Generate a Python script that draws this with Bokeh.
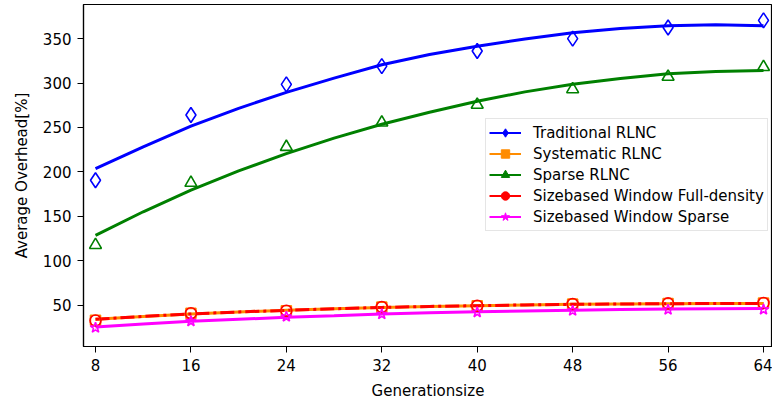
from bokeh.plotting import figure
from bokeh.models import (ColumnDataSource, FixedTicker, Legend, LegendItem,
                          Range1d)
from bokeh.embed import file_html
from bokeh.resources import INLINE

# Generation sizes and measured average overhead (%)
gen_sizes = [8, 16, 24, 32, 40, 48, 56, 64]
traditional = [190.5, 264.0, 298.5, 319.0, 336.0, 350.0, 362.5, 370.5]
systematic = [32.8, 40.6, 43.6, 47.6, 49.1, 51.0, 51.8, 52.2]
sparse = [117.6, 187.6, 228.0, 255.5, 275.5, 293.0, 307.0, 318.0]
window_full = [32.5, 40.7, 43.6, 47.8, 49.2, 51.1, 51.9, 52.2]
window_sparse = [24.5, 31.7, 36.9, 39.6, 41.8, 43.6, 44.7, 44.9]

# Fitted trend curves
fit_x = [8, 12, 16, 20, 24, 28, 32, 36, 40, 44, 48, 52, 56, 60, 64]
fit_traditional = [203.5, 228.0, 251.5, 271.5, 289.5, 305.5, 320.5, 332.0,
                   341.5, 349.5, 356.5, 361.5, 364.5, 365.5, 364.5]
fit_systematic = [34.0, 37.2, 40.0, 42.2, 44.0, 45.8, 47.3, 48.4, 49.3,
                  50.1, 50.8, 51.2, 51.5, 51.7, 51.7]
fit_sparse = [128.5, 155.0, 179.5, 201.0, 220.5, 238.0, 253.5, 267.0,
              279.5, 290.0, 298.5, 305.0, 310.5, 313.0, 314.0]
fit_window_full = [34.0, 37.2, 40.0, 42.2, 44.0, 45.8, 47.3, 48.4, 49.3,
                   50.1, 50.8, 51.2, 51.5, 51.7, 51.7]
fit_window_sparse = [25.3, 28.7, 31.6, 34.0, 36.1, 38.0, 40.0, 41.3, 42.4,
                     43.3, 44.2, 44.9, 45.4, 45.8, 46.0]

y_ticks = [50, 100, 150, 200, 250, 300, 350]

BLUE, ORANGE, GREEN, RED, MAGENTA = "#0000ff", "#ff8c00", "#008000", "#ff0000", "#ff00ff"
FONT = "DejaVu Sans"

p = figure(width=772, height=402, output_backend="svg", toolbar_location=None,
           x_range=Range1d(6.994, 64.754), y_range=Range1d(3.3, 388.4),
           min_border_left=83, min_border_right=0, min_border_top=4,
           min_border_bottom=54)
p.grid.visible = False
p.outline_line_color = "black"
p.outline_line_width = 1.2
p.background_fill_color = "white"
p.border_fill_color = "white"

for ax in (p.xaxis[0], p.yaxis[0]):
    ax.axis_line_color = "black"
    ax.axis_line_width = 1.2
    ax.major_tick_line_color = "black"
    ax.major_tick_out = 6
    ax.major_tick_in = 0
    ax.minor_tick_line_color = None
    ax.major_label_text_font = FONT
    ax.major_label_text_color = "black"
    ax.axis_label_text_font = FONT
    ax.axis_label_text_font_style = "normal"
    ax.axis_label_text_color = "black"

p.xaxis.ticker = FixedTicker(ticks=gen_sizes)
p.xaxis.axis_label = "Generationsize"
p.xaxis.major_label_text_font_size = "15px"
p.xaxis.axis_label_text_font_size = "15px"
p.xaxis.major_label_standoff = 6
p.xaxis.axis_label_standoff = 8

p.yaxis.ticker = FixedTicker(ticks=y_ticks)
p.yaxis.axis_label = "Average Overhead[%]"
p.yaxis.major_label_text_font_size = "15px"
p.yaxis.axis_label_text_font_size = "15px"
p.yaxis.major_label_standoff = 6
p.yaxis.axis_label_standoff = 9

# Fitted curves
p.line(fit_x, fit_traditional, line_color=BLUE, line_width=3)
p.line(fit_x, fit_sparse, line_color=GREEN, line_width=3)
p.line(fit_x, fit_window_sparse, line_color=MAGENTA, line_width=3)
p.line(fit_x, fit_systematic, line_color=ORANGE, line_width=3)
p.line(fit_x, fit_window_full, line_color=RED, line_width=3,
       line_dash="14 4 3 4")

# Measured points (hollow markers)
src = ColumnDataSource(dict(x=gen_sizes, trad=traditional, syst=systematic,
                            sparse=sparse, wfull=window_full,
                            wsparse=window_sparse))
p.scatter("x", "trad", source=src, marker="diamond", size=15,
          line_color=BLUE, line_width=1.6, fill_color=None)
p.scatter("x", "sparse", source=src, marker="triangle", size=12,
          line_color=GREEN, line_width=1.6, fill_color=None)
p.scatter("x", "syst", source=src, marker="square", size=10,
          line_color=ORANGE, line_width=1.6, fill_color=None)
p.scatter("x", "wfull", source=src, marker="circle", size=11,
          line_color=RED, line_width=1.6, fill_color=None)
p.scatter("x", "wsparse", source=src, marker="star", size=11,
          line_color=MAGENTA, line_width=1.6, fill_color=None)

# Legend entries: line with a filled marker (placeholder sources hold a
# single undefined point so nothing is drawn inside the frame)
labels = ["Traditional RLNC", "Systematic RLNC", "Sparse RLNC",
          "Sizebased Window Full-density", "Sizebased Window Sparse"]
colors = [BLUE, ORANGE, GREEN, RED, MAGENTA]
markers = ["diamond", "square", "triangle", "circle", "star"]
nan = float("nan")
items = []
for lab, col, mk in zip(labels, colors, markers):
    lr = p.line([nan], [nan], line_color=col, line_width=2)
    mr = p.scatter([nan], [nan], marker=mk, size=10, line_color=col,
                   fill_color=col)
    items.append(LegendItem(label=lab, renderers=[lr, mr]))

legend = Legend(items=items, location=(402, 115), margin=0, padding=3,
                spacing=0, glyph_width=32, glyph_height=21, label_height=16,
                label_standoff=12, label_text_font=FONT,
                label_text_font_size="15px", label_text_color="black",
                border_line_color="#cccccc", border_line_width=1,
                background_fill_color="white", background_fill_alpha=0.8)
p.add_layout(legend)

open("out.html", "w").write(file_html(p, INLINE))
